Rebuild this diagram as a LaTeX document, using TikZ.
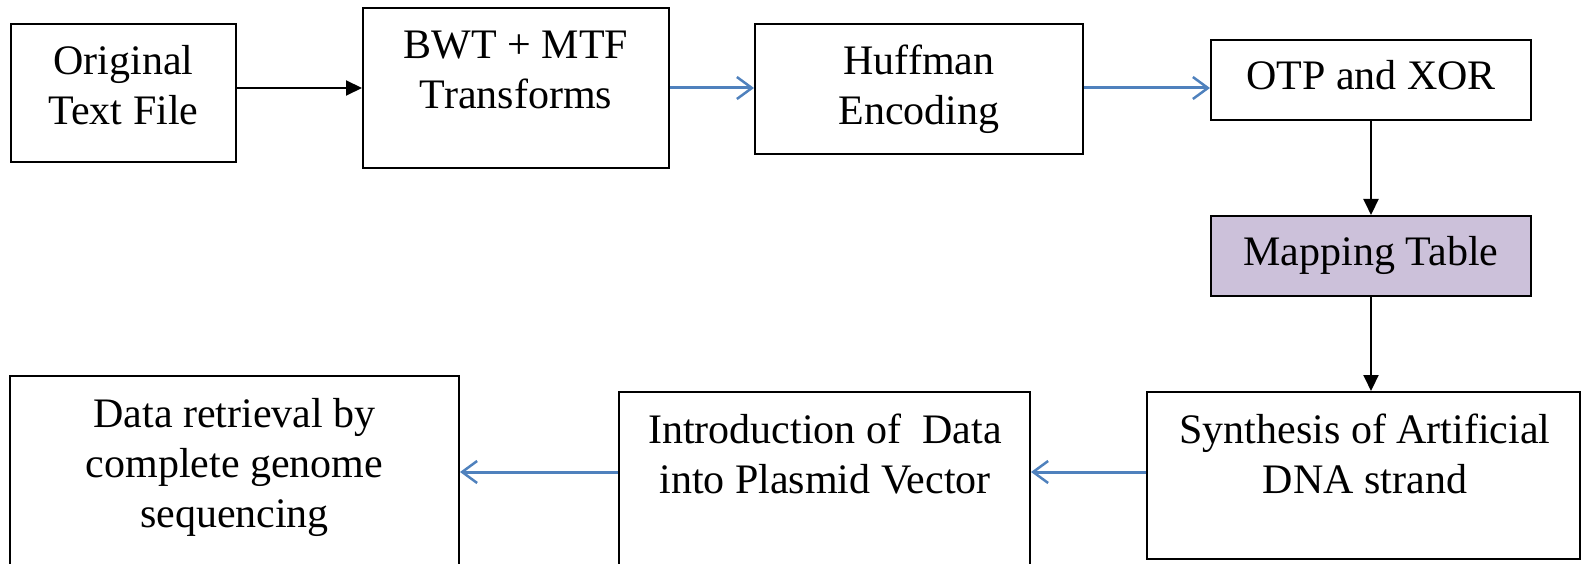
\documentclass[tikz,border=0pt]{standalone}
\usepackage{fontspec}
\setmainfont{Liberation Serif}
\usetikzlibrary{arrows.meta}
\definecolor{arrblue}{HTML}{4F81BD}
\definecolor{mapfill}{HTML}{CCC1DA}
\begin{document}
\begin{tikzpicture}[x=1pt,y=-1pt,
  box/.style={draw=black,line width=2pt,rectangle,inner sep=0pt},
  txt/.style={align=center,font=\fontsize{42}{50}\selectfont,anchor=base,inner sep=0pt},
  blackarrow/.style={line width=2pt,-{Triangle[length=16pt,width=15pt]}},
  bluearrow/.style={draw=arrblue,line width=3pt,-{Straight Barb[length=15pt,width=22pt,line width=2.5pt]}}]
\useasboundingbox (0,0) rectangle (1581,564);
\clip (0,0) rectangle (1581,564);
% boxes
\node[box,minimum width=225pt,minimum height=138pt] (b1) at (123.5,93) {};
\node[box,minimum width=306pt,minimum height=160pt] (b2) at (516,88) {};
\node[box,minimum width=328pt,minimum height=130pt] (b3) at (919,89) {};
\node[box,minimum width=320pt,minimum height=80pt] (b4) at (1371,80) {};
\node[box,fill=mapfill,minimum width=320pt,minimum height=80pt] (b5) at (1371,256) {};
\node[box,minimum width=433pt,minimum height=167pt] (b6) at (1363.5,475.5) {};
\node[box,minimum width=411pt,minimum height=188pt] (b7) at (824.5,486) {};
\node[box,minimum width=449pt,minimum height=204pt] (b8) at (234.5,478) {};
% texts
\node[txt] (t1) at (123.5,125) {Original\\Text File};
\node[txt] (t2) at (516,109) {BWT + MTF\\Transforms};
\node[txt] (t3) at (919,125) {Huffman\\Encoding};
\node[txt] (t4) at (1371,90) {OTP and XOR};
\node[txt] (t5) at (1371,265) {Mapping Table};
\node[txt] (t6) at (1365,493) {Synthesis of Artificial\\DNA strand};
\node[txt] (t7) at (825,493) {Introduction of~ Data\\into Plasmid Vector};
\node[txt] (t8) at (234.5,527) {Data retrieval by\\complete genome\\sequencing};
% rows for connectors
\coordinate (r1) at (0,88);
\coordinate (r2) at (0,472);
% connectors
\draw[blackarrow] (b1.east |- r1) -- (b2.west |- r1);
\draw[bluearrow] (b2.east |- r1) -- (b3.west |- r1);
\draw[bluearrow] (b3.east |- r1) -- (b4.west |- r1);
\draw[blackarrow] (b4.south) -- (b5.north);
\draw[blackarrow] (b5.south) -- (b5.south |- b6.north);
\draw[bluearrow] (b6.west |- r2) -- (b7.east |- r2);
\draw[bluearrow] (b7.west |- r2) -- (b8.east |- r2);
\end{tikzpicture}
\end{document}
